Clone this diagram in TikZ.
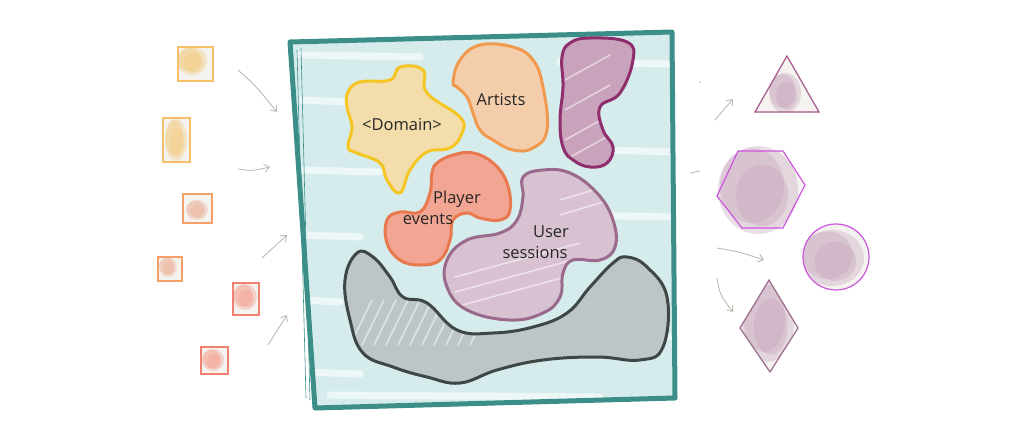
\documentclass[tikz,border=0pt]{standalone}
\usepackage{fontspec}
\setmainfont{Open Sans}
\usetikzlibrary{arrows.meta}
\definecolor{teal1}{HTML}{3C8F88}
\definecolor{bgblue}{HTML}{D6ECEC}
\definecolor{paper}{HTML}{F4F3EF}
\definecolor{yelS}{HTML}{F6C06A}
\definecolor{yelF}{HTML}{F3C878}
\definecolor{oraS}{HTML}{F4A068}
\definecolor{oraF}{HTML}{EEB098}
\definecolor{redS}{HTML}{F08070}
\definecolor{redF}{HTML}{F39C8C}
\definecolor{domS}{HTML}{F5C523}
\definecolor{domF}{HTML}{F3DDAA}
\definecolor{artS}{HTML}{F09A50}
\definecolor{artF}{HTML}{F4CDAA}
\definecolor{purS}{HTML}{8E2E6C}
\definecolor{purF}{HTML}{C9A3BB}
\definecolor{plyS}{HTML}{E8784E}
\definecolor{plyF}{HTML}{F1A592}
\definecolor{usrS}{HTML}{9A6A8C}
\definecolor{usrF}{HTML}{D8C2D2}
\definecolor{gryS}{HTML}{3F4646}
\definecolor{gryF}{HTML}{BCC6C6}
\definecolor{magS}{HTML}{CC55DD}
\definecolor{lav}{HTML}{C4A2BA}
\definecolor{arrowc}{HTML}{BBBBB3}
\newcommand{\mywash}[5]{%
  \fill[#1, fill opacity=0.35] (#2,#3) ellipse (#4 and #5);
  \fill[#1, fill opacity=0.35] (#2-0.15*#4,#3-0.1*#5) ellipse (0.8*#4 and 0.85*#5);
  \fill[#1, fill opacity=0.35] (#2+0.1*#4,#3+0.12*#5) ellipse (0.65*#4 and 0.7*#5);
}
\tikzset{
  sq/.style={line width=1.2pt, fill=paper},
  blob/.style={line width=3pt, line join=round},
  arr/.style={draw=arrowc, line width=0.9pt, -{Straight Barb[length=5pt,width=8pt]}},
  lbl/.style={font=\fontsize{16.5}{18}\selectfont, text=black!85, align=center, inner sep=0pt},
  streak/.style={white, line width=7pt, line cap=round, opacity=0.6},
  hatch/.style={white, line width=1.5pt, opacity=0.55, line cap=round},
  shp/.style={line width=1.2pt},
}
\begin{document}
\begin{tikzpicture}[x=1pt,y=-1pt]
\useasboundingbox (0,0) rectangle (1018,426);
% left squares
\draw[sq, draw=yelS] (178,47) rectangle (213,81);
\mywash{yelF}{192}{61}{15}{14}
\draw[sq, draw=yelS] (163,118) rectangle (190,162);
\mywash{yelF}{176}{140}{11}{21}
\draw[sq, draw=oraS] (183,194) rectangle (212,223);
\mywash{oraF}{197}{210}{11}{10}
\draw[sq, draw=oraS] (158,257) rectangle (182,281);
\mywash{oraF}{168}{267}{9}{10}
\draw[sq, draw=redS] (233,283) rectangle (259,315);
\mywash{redF}{245}{297}{12}{13}
\draw[sq, draw=redS] (201,347) rectangle (228,374);
\mywash{redF}{213}{360}{11}{11}
% left arrows
\coordinate (a1s) at (238,70); \coordinate (a1e) at (277,112);
\coordinate (a2s) at (238,169); \coordinate (a2e) at (270,167);
\coordinate (a3s) at (262,258); \coordinate (a3e) at (287,235);
\coordinate (a4s) at (268,345); \coordinate (a4e) at (287,315);
\draw[arr] (a1s) .. controls (255,85) .. (a1e);
\draw[arr] (a2s) .. controls (252,171) .. (a2e);
\draw[arr] (a3s) -- (a3e);
\draw[arr] (a4s) -- (a4e);
% big square
\coordinate (tl) at (290,42); \coordinate (tr) at (672,32);
\coordinate (br) at (675,398); \coordinate (bl) at (315,408);
\fill[bgblue] (tl) -- (tr) -- (br) -- (bl) -- cycle;
\begin{scope}
\clip (tl) -- (tr) -- (br) -- (bl) -- cycle;
\foreach \y/\a/\b in {55/300/420, 62/560/680, 100/300/350, 150/600/680, 170/300/380, 215/560/680, 235/300/360, 300/300/340, 335/620/680, 372/300/360, 395/330/600}
  \draw[streak] (\a,\y) -- (\b,\y+2);
\end{scope}
\draw[teal1, line width=0.6pt] (297,50) -- (306,398);
\draw[teal1, line width=0.6pt] (301,48) -- (310,400);
\draw[teal1, line width=5pt, line join=round, line cap=round] (tl) -- (tr) -- (br) -- (bl) -- cycle;
% blobs
\def\gray{(357,253) (373,257) (390,277) (403,297) (427,303) (457,330) (493,333) (533,327) (567,313) (590,287) (613,263) (627,257) (647,267) (667,297) (663,347) (640,360) (597,357) (543,360) (497,370) (460,383) (427,377) (393,367) (363,353) (350,320) (345,280)}
\def\usr{(523,177) (543,170) (570,173) (597,193) (613,220) (615,247) (600,260) (573,260) (563,273) (560,297) (543,313) (510,320) (467,310) (447,287) (447,260) (467,240) (500,233) (517,220) (523,197)}
\def\pur{(562,57) (570,43) (590,38) (627,42) (633,60) (620,93) (600,107) (603,130) (613,147) (607,163) (590,167) (573,160) (563,147) (560,120) (563,87)}
\fill[gryF] plot[smooth cycle, tension=0.7] coordinates {\gray};
\begin{scope}
\clip plot[smooth cycle, tension=0.7] coordinates {\gray};
\foreach \x in {350,362,...,470} \draw[hatch] (\x,345) -- (\x+22,300);
\end{scope}
\draw[blob, draw=gryS] plot[smooth cycle, tension=0.7] coordinates {\gray};
\fill[usrF] plot[smooth cycle, tension=0.7] coordinates {\usr};
\begin{scope}
\clip plot[smooth cycle, tension=0.7] coordinates {\usr};
\foreach \y in {265,280,295} \draw[hatch] (455,\y+12) -- (580,\y-22);
\foreach \y in {190,205} \draw[hatch] (560,\y+10) -- (610,\y-5);
\end{scope}
\draw[blob, draw=usrS] plot[smooth cycle, tension=0.7] coordinates {\usr};
\draw[blob, draw=plyS, fill=plyF] plot[smooth cycle, tension=0.7] coordinates {(437,163) (453,155) (473,153) (493,163) (507,183) (510,210) (500,220) (480,218) (467,213) (453,220) (450,240) (440,260) (420,265) (400,260) (387,243) (387,220) (400,212) (420,212) (430,193) (432,173)};
\draw[blob, draw=domS, fill=domF] plot[smooth cycle, tension=0.7] coordinates {(348,92) (360,82) (390,80) (400,67) (423,70) (427,93) (460,117) (462,133) (450,148) (427,152) (410,170) (400,193) (387,180) (380,163) (357,153) (348,147) (352,127) (347,107)};
\draw[blob, draw=artS, fill=artF] plot[smooth cycle, tension=0.7] coordinates {(453,82) (460,60) (480,45) (513,47) (533,60) (543,87) (547,130) (533,148) (513,150) (493,140) (480,130) (473,113) (467,97) (457,87)};
\fill[purF] plot[smooth cycle, tension=0.7] coordinates {\pur};
\begin{scope}
\clip plot[smooth cycle, tension=0.7] coordinates {\pur};
\foreach \y in {70,100,130,150} \draw[hatch] (565,\y+10) -- (610,\y-15);
\end{scope}
\draw[blob, draw=purS] plot[smooth cycle, tension=0.7] coordinates {\pur};
% labels
\node[lbl] (dom) at (402,125) {<Domain>};
\node[lbl] (art) at (501,100) {Artists};
\node[lbl] (ply1) at (457,199) {Player};
\node[lbl] (ply2) at (428,219) {events};
\node[lbl] (usr1) at (551,232) {User};
\node[lbl] (usr2) at (535,253) {sessions};
% right side
\draw[arrowc, line width=0.8pt] (690,173) -- (700,171);
\fill[arrowc] (700,82) circle (0.8);
\coordinate (b1s) at (715,120); \coordinate (b1e) at (733,99);
\coordinate (b2s) at (717,248); \coordinate (b2e) at (764,260);
\coordinate (b3s) at (717,278); \coordinate (b3e) at (733,312);
\draw[arr] (b1s) -- (b1e);
\draw[arr] (b2s) .. controls (740,252) .. (b2e);
\draw[arr] (b3s) .. controls (720,295) .. (b3e);
% triangle
\fill[paper] (787,56) -- (819,112) -- (755,112) -- cycle;
\begin{scope}
\clip (787,56) -- (819,112) -- (755,112) -- cycle;
\mywash{lav}{785}{93}{16}{20}
\end{scope}
\draw[draw=purS!80, shp] (787,56) -- (819,112) -- (755,112) -- cycle;
% hexagon
\fill[paper] (738,151) -- (783,151) -- (805,185) -- (783,228) -- (742,228) -- (717,196) -- cycle;
\mywash{lav}{758}{190}{40}{44}
\draw[draw=magS, shp] (738,151) -- (783,151) -- (805,185) -- (783,228) -- (742,228) -- (717,196) -- cycle;
% circle
\fill[paper] (836,257) circle (33);
\begin{scope}
\clip (836,257) circle (33);
\mywash{lav}{832}{258}{32}{28}
\end{scope}
\draw[draw=magS, shp] (836,257) circle (33);
% diamond
\fill[paper] (769,280) -- (798,328) -- (770,372) -- (740,328) -- cycle;
\begin{scope}
\clip (769,280) -- (798,328) -- (770,372) -- (740,328) -- cycle;
\mywash{lav}{768}{322}{26}{40}
\end{scope}
\draw[draw=usrS, shp] (769,280) -- (798,328) -- (770,372) -- (740,328) -- cycle;
\end{tikzpicture}
\end{document}
